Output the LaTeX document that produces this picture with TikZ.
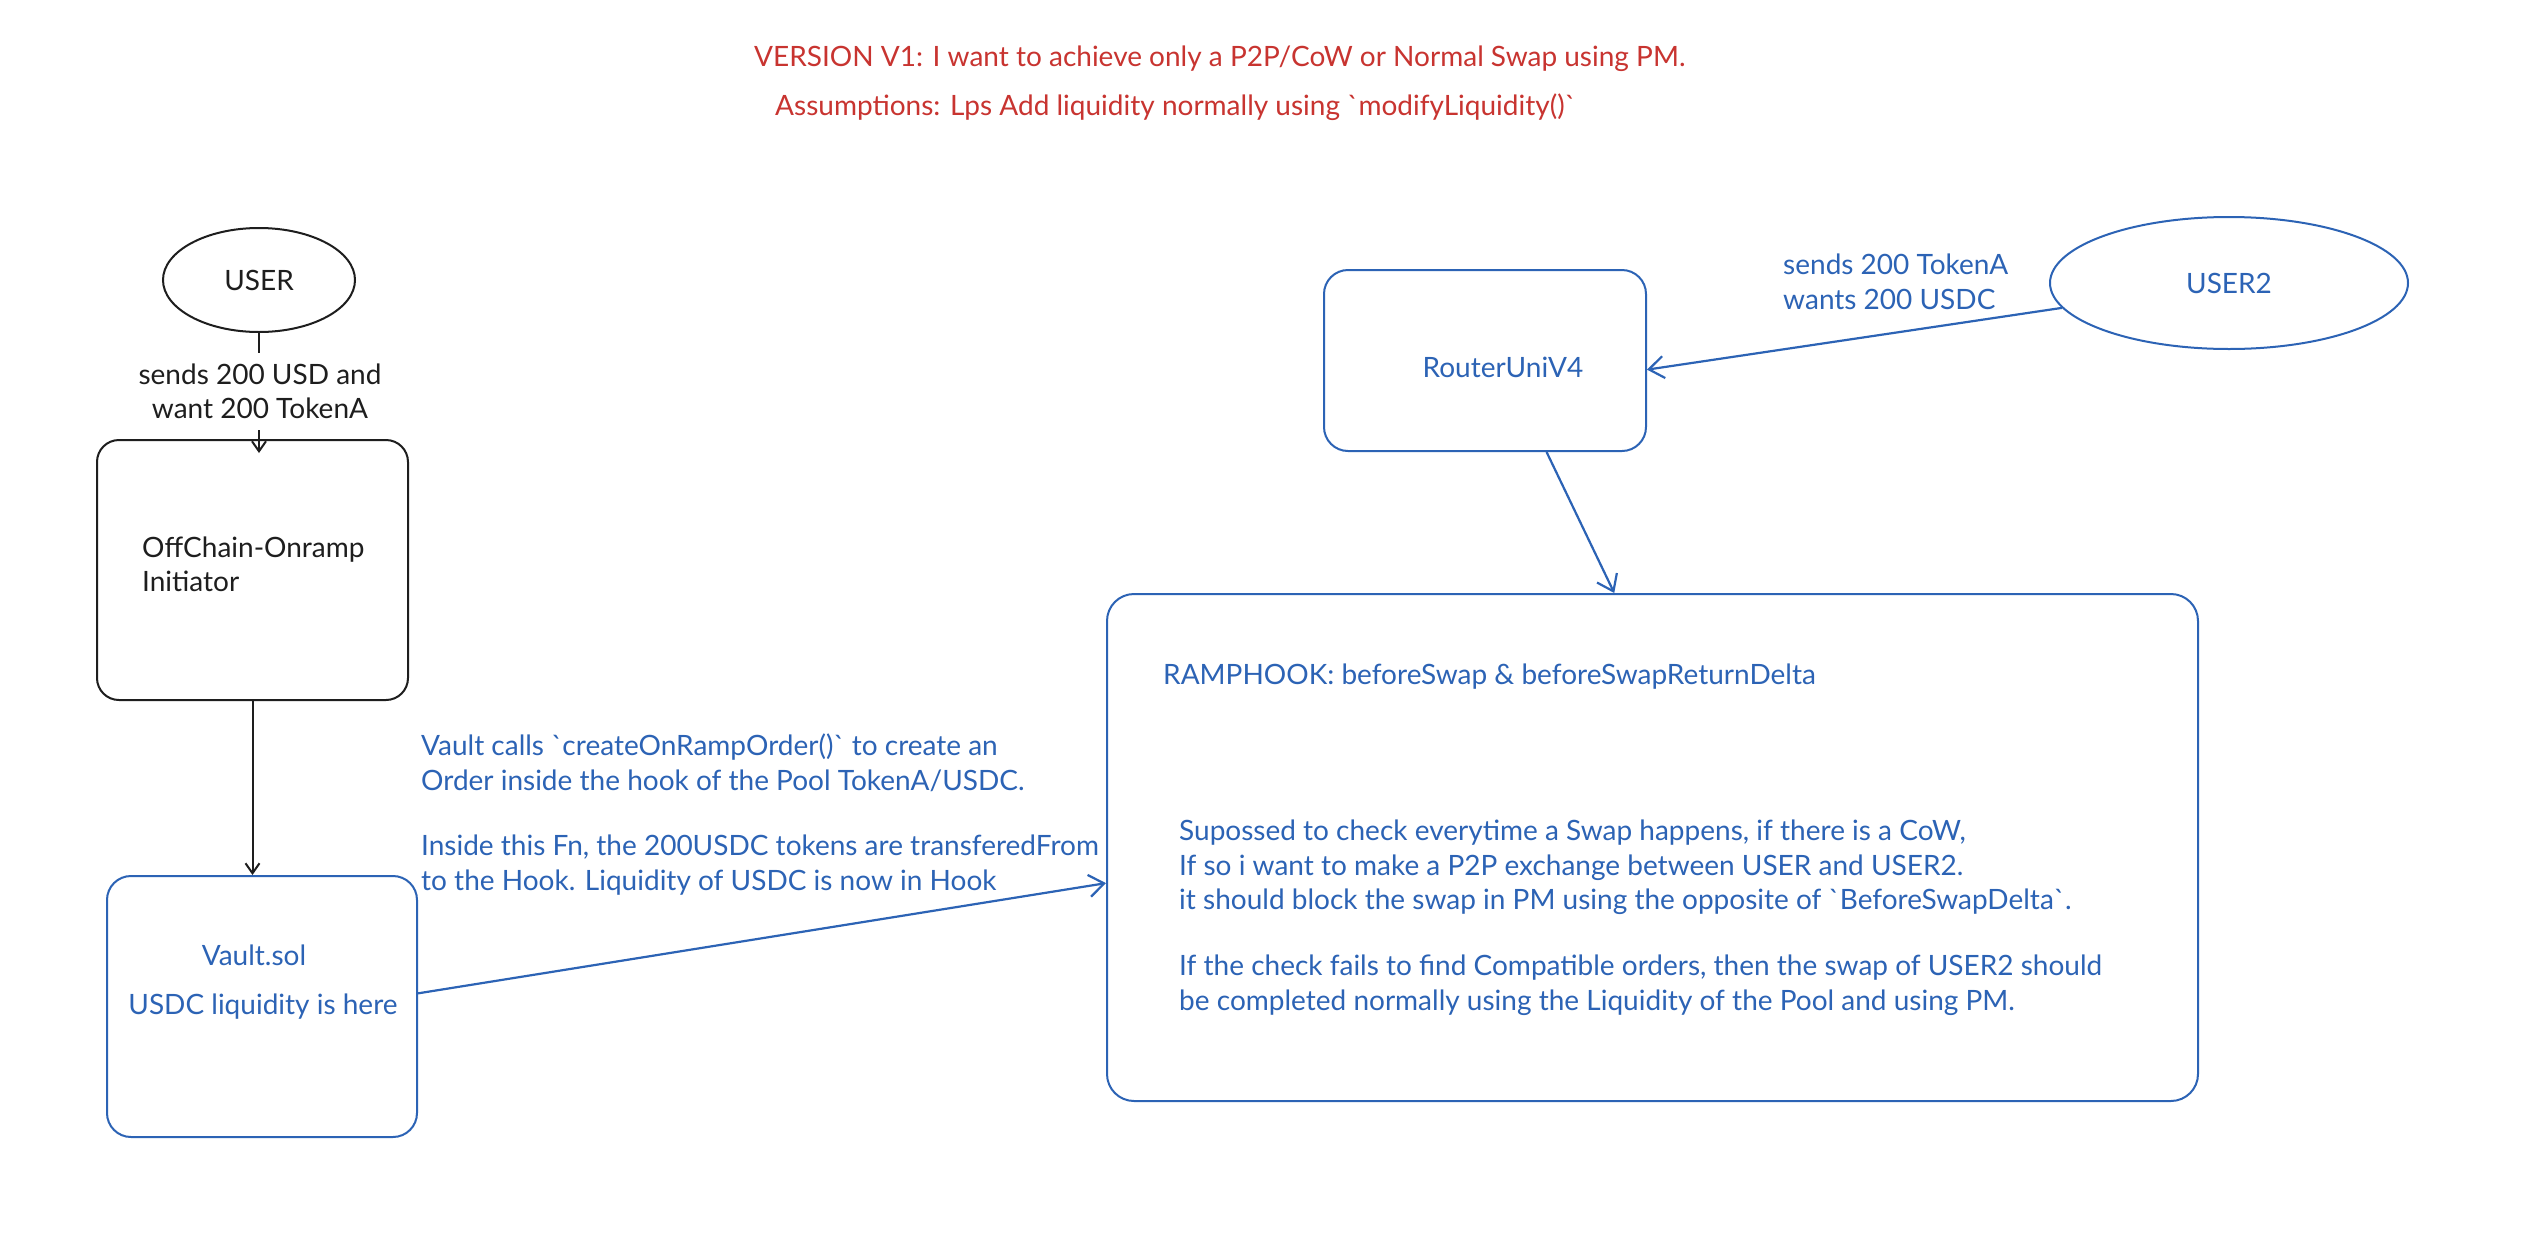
\documentclass[tikz,border=0pt]{standalone}
\usepackage{fontspec}
\setmainfont{Lato}
\usetikzlibrary{arrows.meta,calc,shapes.geometric}
\definecolor{exred}{RGB}{200,52,48}
\definecolor{exblue}{RGB}{44,99,181}
\definecolor{exblack}{RGB}{30,30,30}
\newcommand{\bq}{\textasciigrave}
\begin{document}
\begin{tikzpicture}[x=1pt,y=-1pt,
  txt/.style={font=\fontsize{28}{34.5}\selectfont, inner sep=0pt},
  bluebox/.style={draw=exblue, line width=2pt, rounded corners=24pt, inner sep=0pt},
  blackbox/.style={draw=exblack, line width=2pt, rounded corners=22pt, inner sep=0pt},
  oval/.style={ellipse, line width=2pt, inner sep=0pt},
  barrow/.style={draw=exblue, line width=2.2pt, -{Straight Barb[length=15pt,width=22pt,line width=2.2pt]}},
  karrow/.style={draw=exblack, line width=2pt, -{Straight Barb[length=10pt,width=14pt,line width=2pt]}},
  kline/.style={draw=exblack, line width=2pt},
]
\useasboundingbox[fill=white] (0,0) rectangle (2528,1256);

% title
\node[txt, text=exred, anchor=west] (title1) at (754,59) {VERSION V1: I want to achieve only a P2P/CoW or Normal Swap using PM.};
\node[txt, text=exred, anchor=west] (title2) at (775,107) {Assumptions: Lps Add liquidity normally using \bq modifyLiquidity()\bq};

% left column
\node[oval, draw=exblack, minimum width=192pt, minimum height=104pt, txt, text=exblack] (user) at (259,280) {USER};
\node[txt, text=exblack, align=center] (ulbl) at (260,391.5) {sends 200 USD and\\want 200 TokenA};
\coordinate (ua) at (259,353);
\coordinate (ub) at (259,430);
\coordinate (offtop) at (259,453);

\node[blackbox, minimum width=311pt, minimum height=260pt] (off) at (252.5,570) {};
\node[txt, text=exblack, align=left, anchor=west] (offtxt) at (142,564.5) {OffChain-Onramp\\Initiator};

\node[bluebox, minimum width=310pt, minimum height=261pt] (vault) at (262,1006.5) {};
\node[txt, text=exblue] (vaulttxt1) at (254,955) {Vault.sol};
\node[txt, text=exblue] (vaulttxt2) at (263,1007) {USDC liquidity is here};

\node[txt, text=exblue, align=left, anchor=west] (vaultnote) at (421,814.5) {Vault calls \bq createOnRampOrder()\bq{} to create an\\Order inside the hook of the Pool TokenA/USDC.\\[31pt]Inside this Fn, the 200USDC tokens are transferedFrom\\to the Hook. Liquidity of USDC is now in Hook};

% right side
\node[bluebox, minimum width=322pt, minimum height=181pt] (router) at (1485,360.5) {};
\node[txt, text=exblue] (routertxt) at (1503,367) {RouterUniV4};

\node[oval, draw=exblue, minimum width=358pt, minimum height=132pt, txt, text=exblue] (user2) at (2229,283) {USER2};
\node[txt, text=exblue, align=left, anchor=west] (u2lbl) at (1783,282) {sends 200 TokenA\\wants 200 USDC};

\node[bluebox, rounded corners=27pt, minimum width=1091pt, minimum height=507pt] (hook) at (1652.5,847.5) {};
\node[txt, text=exblue, anchor=west] (hooktitle) at (1163,677) {RAMPHOOK: beforeSwap \& beforeSwapReturnDelta};
\node[txt, text=exblue, align=left, anchor=west] (hooktxt) at (1179,917.5) {Supossed to check everytime a Swap happens, if there is a CoW,\\If so i want to make a P2P exchange between USER and USER2.\\it should block the swap in PM using the opposite of \bq BeforeSwapDelta\bq .\\[31.5pt]If the check fails to find Compatible orders, then the swap of USER2 should\\be completed normally using the Liquidity of the Pool and using PM.};

% connectors
\draw[kline] (user.south) -- (ua);
\draw[karrow] (ub) -- (offtop);
\draw[karrow] (off.south) -- (off.south |- vault.north);
\draw[barrow] ($(vault.north east)!0.45!(vault.south east)$) -- ($(hook.north west)!0.57!(hook.south west)$);
\draw[barrow] (user2) -- ($(router.north east)!0.55!(router.south east)$);
\draw[barrow] ($(router.south west)!0.69!(router.south east)$) -- ($(hook.north west)!0.465!(hook.north east)$);
\end{tikzpicture}
\end{document}
